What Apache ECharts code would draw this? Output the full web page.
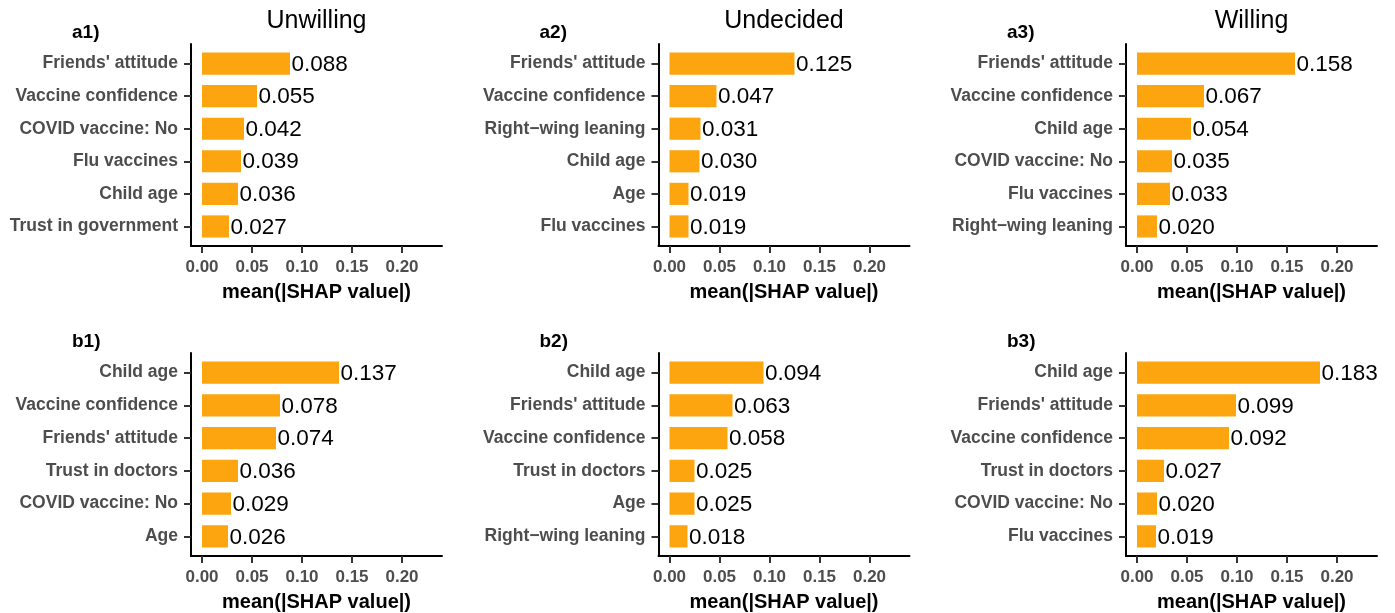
<!DOCTYPE html>
<html>
<head>
<meta charset="utf-8">
<title>mean(|SHAP value|) by outcome group</title>
<script src="https://cdn.jsdelivr.net/npm/echarts@6/dist/echarts.min.js"></script>
<style>
  html, body { margin: 0; padding: 0; background: #ffffff; }
  #chart { width: 1395px; height: 613px; }
</style>
</head>
<body>
<div id="chart"></div>
<script>
// ---- data: top six features per panel, listed top to bottom ----
const columnTitles = ['Unwilling', 'Undecided', 'Willing'];
const panelTags = ['a1)', 'a2)', 'a3)', 'b1)', 'b2)', 'b3)'];

const a1Features = ["Friends' attitude", 'Vaccine confidence', 'COVID vaccine: No', 'Flu vaccines', 'Child age', 'Trust in government'];
const a1Values = [0.088, 0.055, 0.042, 0.039, 0.036, 0.027];

const a2Features = ["Friends' attitude", 'Vaccine confidence', 'Right\u2212wing leaning', 'Child age', 'Age', 'Flu vaccines'];
const a2Values = [0.125, 0.047, 0.031, 0.030, 0.019, 0.019];

const a3Features = ["Friends' attitude", 'Vaccine confidence', 'Child age', 'COVID vaccine: No', 'Flu vaccines', 'Right\u2212wing leaning'];
const a3Values = [0.158, 0.067, 0.054, 0.035, 0.033, 0.020];

const b1Features = ['Child age', 'Vaccine confidence', "Friends' attitude", 'Trust in doctors', 'COVID vaccine: No', 'Age'];
const b1Values = [0.137, 0.078, 0.074, 0.036, 0.029, 0.026];

const b2Features = ['Child age', "Friends' attitude", 'Vaccine confidence', 'Trust in doctors', 'Age', 'Right\u2212wing leaning'];
const b2Values = [0.094, 0.063, 0.058, 0.025, 0.025, 0.018];

const b3Features = ['Child age', "Friends' attitude", 'Vaccine confidence', 'Trust in doctors', 'COVID vaccine: No', 'Flu vaccines'];
const b3Values = [0.183, 0.099, 0.092, 0.027, 0.020, 0.019];

const xTicks = [0, 0.05, 0.10, 0.15, 0.20];
const xTitle = 'mean(|SHAP value|)';

// ---- layout ----
const panels = [
  { feats: a1Features, vals: a1Values },
  { feats: a2Features, vals: a2Values },
  { feats: a3Features, vals: a3Values },
  { feats: b1Features, vals: b1Values },
  { feats: b2Features, vals: b2Values },
  { feats: b3Features, vals: b3Values }
];
const colLeft = [191, 658.5, 1126];
const rowTop = [44, 353];
const rowHeight = [202, 203];
const plotWidth = 251;

const FONT = '"Liberation Sans", Arial, Helvetica, sans-serif';
const BAR_COLOR = '#FCA50F';
const TICK_GREY = '#4D4D4D';
const BAR_WIDTH = 0.68; // fraction of a category slot

const grids = [], xAxes = [], yAxes = [], series = [], graphics = [];

panels.forEach((p, i) => {
  const row = Math.floor(i / 3), col = i % 3;
  grids.push({
    left: colLeft[col], top: rowTop[row], width: plotWidth, height: rowHeight[row],
    containLabel: false, outerBoundsMode: 'none'
  });
  xAxes.push({
    gridIndex: i, type: 'value', min: -0.011, max: 0.24,
    name: xTitle, nameLocation: 'middle', nameGap: 36,
    nameTextStyle: { fontFamily: FONT, fontSize: 20, fontWeight: 'bold', color: '#000' },
    axisLine: { show: true, onZero: false, lineStyle: { color: '#000', width: 2 } },
    axisTick: { show: true, length: 7, customValues: xTicks, lineStyle: { color: '#333', width: 2 } },
    axisLabel: {
      customValues: xTicks, margin: 12.5,
      fontFamily: FONT, fontSize: 17, fontWeight: 'bold', color: TICK_GREY,
      formatter: v => v.toFixed(2)
    },
    splitLine: { show: false }
  });
  const feats = p.feats;
  const idx = feats.map((_, k) => k + 1);
  yAxes.push({
    gridIndex: i, type: 'value', min: 0.4, max: 6.6, inverse: true,
    axisLine: { show: true, onZero: false, lineStyle: { color: '#000', width: 2 } },
    axisTick: { show: true, length: 7, customValues: idx, lineStyle: { color: '#333', width: 2 } },
    axisLabel: {
      customValues: idx, margin: 13,
      fontFamily: FONT, fontSize: 17.5, fontWeight: 'bold', color: TICK_GREY,
      formatter: v => feats[Math.round(v) - 1] || ''
    },
    splitLine: { show: false }
  });
  series.push({
    type: 'custom',
    xAxisIndex: i, yAxisIndex: i,
    encode: { x: 0, y: 1 },
    data: p.vals.map((v, k) => [v, k + 1]),
    renderItem: (params, api) => {
      const v = api.value(0), k = api.value(1);
      const start = api.coord([0, k]);
      const end = api.coord([v, k]);
      const h = api.size([0, BAR_WIDTH])[1];
      return {
        type: 'group',
        children: [
          {
            type: 'rect',
            shape: { x: start[0], y: start[1] - h / 2, width: end[0] - start[0], height: h },
            style: { fill: BAR_COLOR }
          },
          {
            type: 'text',
            style: {
              text: v.toFixed(3), x: end[0] + 1.5, y: end[1] + 1,
              align: 'left', verticalAlign: 'middle',
              font: '22.5px ' + FONT, fill: '#000'
            }
          }
        ]
      };
    }
  });
  graphics.push({
    type: 'text',
    style: {
      text: panelTags[i], x: colLeft[col] - 119, y: rowTop[row] - 11,
      align: 'left', verticalAlign: 'middle',
      font: 'bold 19px ' + FONT, fill: '#000'
    }
  });
});

columnTitles.forEach((t, c) => {
  graphics.push({
    type: 'text',
    style: {
      text: t, x: colLeft[c] + plotWidth / 2, y: 21,
      align: 'center', verticalAlign: 'middle',
      font: '25px ' + FONT, fill: '#000'
    }
  });
});

const chart = echarts.init(document.getElementById('chart'), null, { renderer: 'canvas' });
chart.setOption({
  animation: false,
  backgroundColor: '#ffffff',
  grid: grids,
  xAxis: xAxes,
  yAxis: yAxes,
  series: series,
  graphic: graphics
});
</script>
</body>
</html>
